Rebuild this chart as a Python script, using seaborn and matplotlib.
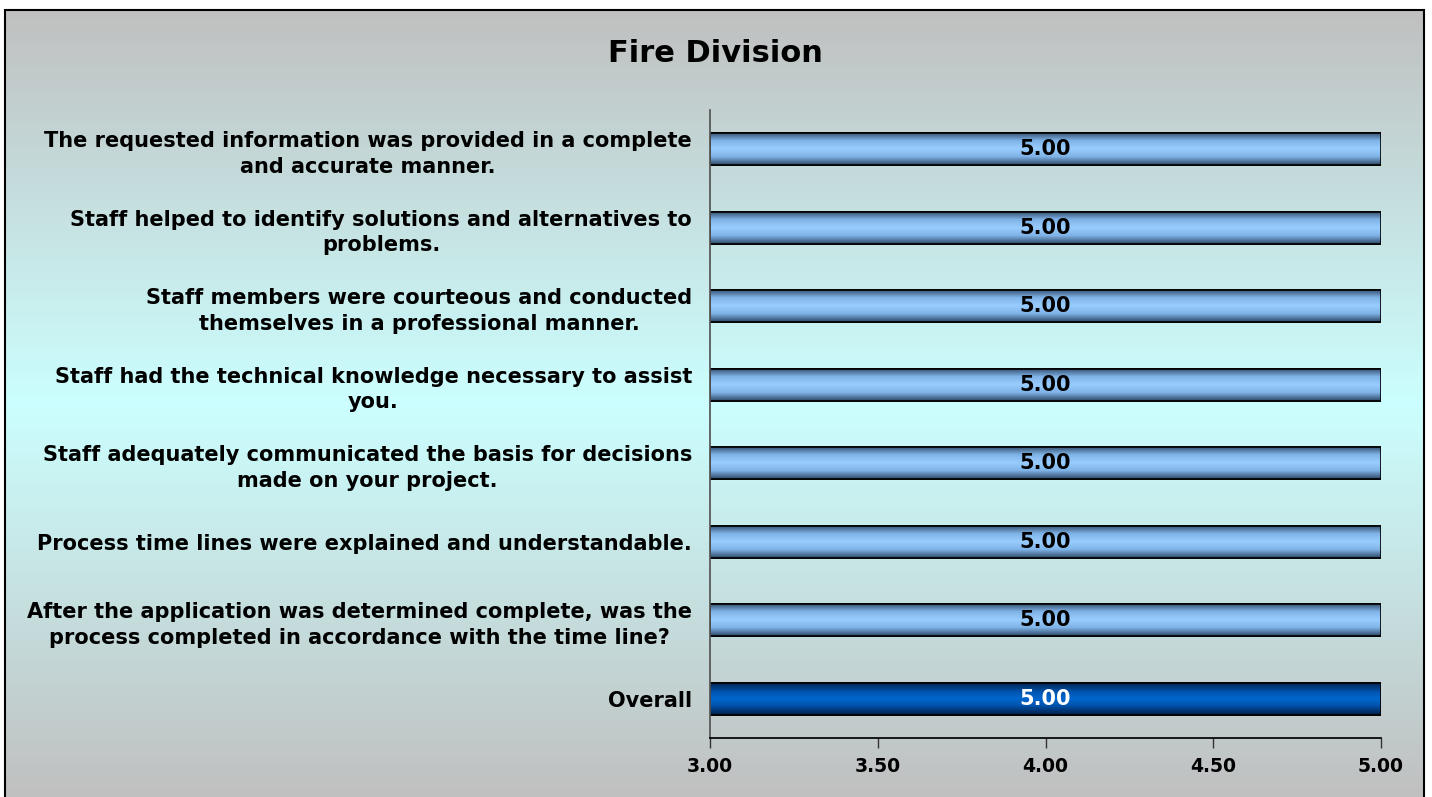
import numpy as np
import pandas as pd
import matplotlib.pyplot as plt
import matplotlib.colors as mcolors
from matplotlib.patches import Rectangle
import seaborn as sns

# chart data
questions = [
    "The requested information was provided in a complete\nand accurate manner.",
    "Staff helped to identify solutions and alternatives to\nproblems.",
    "Staff members were courteous and conducted\nthemselves in a professional manner.",
    "Staff had the technical knowledge necessary to assist\nyou.",
    "Staff adequately communicated the basis for decisions\nmade on your project.",
    "Process time lines were explained and understandable.",
    "After the application was determined complete, was the\nprocess completed in accordance with the time line?",
    "Overall",
]
scores = [5.00, 5.00, 5.00, 5.00, 5.00, 5.00, 5.00, 5.00]
x_ticks = [3.00, 3.50, 4.00, 4.50, 5.00]

df = pd.DataFrame({"question": questions, "score": scores})

sns.set_theme(style="white")
plt.rcParams['font.family'] = ['DejaVu Sans']
plt.rcParams['text.color'] = 'black'
plt.rcParams['xtick.color'] = 'black'
plt.rcParams['ytick.color'] = 'black'

fig = plt.figure(figsize=(14.32, 7.97), dpi=100, facecolor="white")

# frame with background gradient: gray -> light cyan -> gray
fx0, fx1 = 5 / 1432, 1424 / 1432
fy0, fy1 = 0.0, 1 - 10 / 797
bg = fig.add_axes([0, 0, 1, 1], zorder=-2)
bg_cmap = mcolors.LinearSegmentedColormap.from_list(
    "bg", [(0, "#c0c0c0"), (0.5, "#ccffff"), (1, "#c0c0c0")])
bg.imshow(np.linspace(0, 1, 256).reshape(-1, 1), aspect="auto", cmap=bg_cmap,
          extent=[fx0, fx1, fy0, fy1], origin="upper")
bg.add_patch(Rectangle((fx0, fy0 - 0.01), fx1 - fx0, fy1 - fy0 + 0.01,
                       fill=False, edgecolor="black", linewidth=1.5, zorder=3))
bg.set_xlim(0, 1)
bg.set_ylim(0, 1)
bg.axis("off")

ax = fig.add_axes([710 / 1432, 1 - 738 / 797, 671 / 1432, 628 / 797])
ax.patch.set_alpha(0)

sns.barplot(data=df, x="score", y="question", orient="h", width=0.41,
            color="#99ccff", edgecolor="black", linewidth=1.2, ax=ax)
ax.set_xlim(x_ticks[0], x_ticks[-1])

light = mcolors.LinearSegmentedColormap.from_list(
    "light", [(0, "#2f4a68"), (0.25, "#7fb2e6"), (0.5, "#99ccff"),
              (0.75, "#7fb2e6"), (1, "#2f4a68")])
dark = mcolors.LinearSegmentedColormap.from_list(
    "dark", [(0, "#00204a"), (0.3, "#0055b0"), (0.5, "#0066cc"),
             (0.7, "#0055b0"), (1, "#00204a")])

grad = np.linspace(0, 1, 64).reshape(-1, 1)
for i, patch in enumerate(ax.patches):
    y0 = patch.get_y()
    h = patch.get_height()
    w = patch.get_width()
    cmap = dark if questions[i] == "Overall" else light
    im = ax.imshow(grad, aspect="auto", cmap=cmap,
                   extent=[x_ticks[0], w, y0 + h, y0], zorder=patch.get_zorder() + 0.1)
    im.set_clip_path(patch)
    ax.add_patch(Rectangle((x_ticks[0], y0), w - x_ticks[0], h, fill=False,
                           edgecolor="black", linewidth=1.2,
                           zorder=patch.get_zorder() + 0.2))
    txt_color = "white" if questions[i] == "Overall" else "black"
    ax.text(4.0, y0 + h / 2, f"{scores[i]:.2f}", ha="center", va="center",
            fontsize=15, fontweight="bold", color=txt_color, zorder=5)

ax.set_ylim(len(questions) - 0.5, -0.5)
ax.set_xticks(x_ticks)
ax.set_xticklabels([f"{t:.2f}" for t in x_ticks], fontsize=13.5, fontweight="bold")
ax.set_yticks(range(len(questions)))
ax.set_yticklabels(questions, fontsize=15, fontweight="bold",
                   multialignment="center", linespacing=1.35)
ax.tick_params(axis="x", bottom=True, direction="out", length=7, width=1,
               color="#333333", pad=7)
ax.tick_params(axis="y", left=False, length=0, pad=13)
ax.set_xlabel("")
ax.set_ylabel("")
for side in ["top", "right"]:
    ax.spines[side].set_visible(False)
ax.spines["left"].set_color("#555555")
ax.spines["bottom"].set_color("black")

fig.text(715 / 1432, 1 - 53 / 797, "Fire Division", ha="center", va="center",
         fontsize=22, fontweight="bold")

fig.savefig("out.png", dpi=100, facecolor="white")
